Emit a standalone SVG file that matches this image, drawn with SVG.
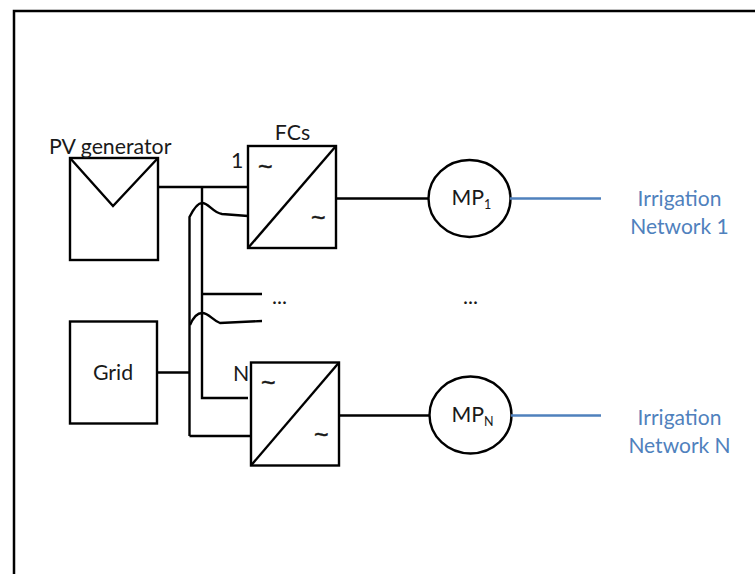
<svg xmlns="http://www.w3.org/2000/svg" width="755" height="574" viewBox="0 0 755 574">
<style>
.s{fill:none;stroke:#000;stroke-width:2.4;stroke-linejoin:miter}
.b{fill:none;stroke:#4f81bd;stroke-width:2.4}
.n{fill:#fff;stroke:#000;stroke-width:2.4}
text{font-family:Lato,"Liberation Sans",sans-serif;fill:#1a1a1a;font-size:21.300px}
.t{fill:#4f81bd;text-anchor:middle;font-size:21px}
.m{text-anchor:middle}
.w{font-family:"Liberation Sans",sans-serif;font-size:25px;stroke:#1a1a1a;stroke-width:0.4}
</style>
<rect width="755" height="574" fill="#fff"/>
<path id="frame" d="M14 574V11H755" fill="none" stroke="#000" stroke-width="2.500"/>
<g id="connectors">
<path class="s" d="M158 187H248"/>
<path class="s" d="M202 187V398H248"/>
<path class="s" d="M189.500 436H251"/>
<path class="s" d="M189.500 436V217C193 210 197 203 202 203C209 203 212 212 222 214L248 216"/>
<path class="s" d="M190 325C193 318 197 313 202 313C209 313 212 320 220 323L262 321"/>
<path class="s" d="M202 294H262"/>
<path class="s" d="M157 372.500H189.500"/>
<path class="s" d="M336 198.500H428"/>
<path class="s" d="M339 415.500H430"/>
</g>
<g id="pv">
<rect class="n" x="70" y="158" width="88" height="102"/>
<path class="s" d="M70 158L113 206L158 158"/>
<text x="49" y="154">PV generator</text>
</g>
<g id="grid">
<rect class="n" x="70" y="321.500" width="87" height="102"/>
<text class="m" x="113" y="380">Grid</text>
</g>
<g id="fc1">
<text class="m" x="292.500" y="140" font-size="20">FCs</text>
<text x="231" y="168">1</text>
<rect class="n" x="248" y="146" width="88" height="102"/>
<path class="s" d="M248 248L336 146"/>
<text class="w" x="258" y="175">~</text>
<text class="w" x="311" y="226">~</text>
</g>
<g id="fcn">
<text x="233" y="381">N</text>
<rect class="n" x="251" y="362.500" width="88" height="103"/>
<path class="s" d="M251 465.500L339 362.500"/>
<text class="w" x="261" y="391">~</text>
<text class="w" x="314" y="443">~</text>
</g>
<g id="mp1">
<ellipse class="n" cx="469.500" cy="198.500" rx="41" ry="38.500"/>
<text x="451.500" y="205" font-size="20">MP<tspan font-size="12.500" dy="4">1</tspan></text>
</g>
<g id="mpn">
<ellipse class="n" cx="470.500" cy="415" rx="41" ry="38.500"/>
<text x="451.500" y="422" font-size="20">MP<tspan font-size="12.500" dy="4">N</tspan></text>
</g>
<path class="b" d="M510 198.500H601"/>
<path class="b" d="M511 415.500H601"/>
<g id="dots">
<text x="272" y="304">...</text>
<text x="463" y="304">...</text>
</g>
<g id="net1"><text class="t" x="679.500" y="206">Irrigation</text><text class="t" x="679.500" y="234">Network 1</text></g>
<g id="netn"><text class="t" x="679.500" y="425">Irrigation</text><text class="t" x="679.500" y="453">Network N</text></g>
</svg>
